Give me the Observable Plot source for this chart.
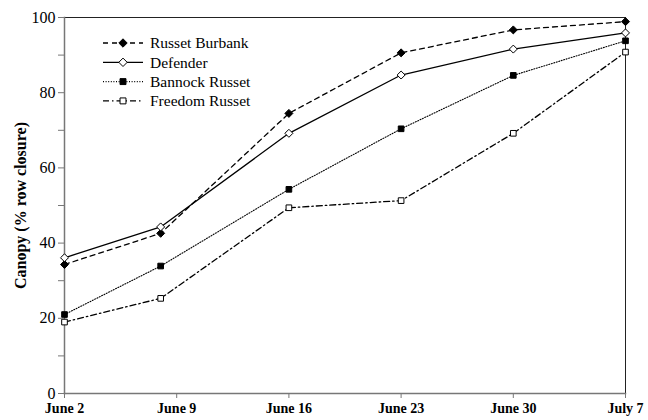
<!DOCTYPE html>
<html>
<head>
<meta charset="utf-8">
<script src="https://cdn.jsdelivr.net/npm/d3@7"></script>
<script src="https://cdn.jsdelivr.net/npm/@observablehq/plot@0.6"></script>
<style>
  html, body { margin: 0; padding: 0; background: #fff; }
  #wrap { position: relative; width: 648px; height: 420px; }
  #wrap svg, #wrap svg text { font-family: 'Liberation Serif', 'DejaVu Serif', serif !important; }
  g[aria-label="y-axis label"] text { font-weight: bold; font-size: 16px; }
  g[aria-label="x-axis tick label"] text { font-weight: bold; font-size: 14px; }
  #legend { position: absolute; left: 0; top: 0; }
</style>
</head>
<body>
<div id="wrap"></div>
<script>
// ---- data ----
const dates = ["2003-06-02", "2003-06-08", "2003-06-16", "2003-06-23", "2003-06-30", "2003-07-07"];
const cultivars = ["Russet Burbank", "Defender", "Bannock Russet", "Freedom Russet"];
const russetBurbank = [34.3, 42.6, 74.5, 90.6, 96.7, 98.9];
const defender      = [36.1, 44.3, 69.2, 84.7, 91.6, 95.9];
const bannockRusset = [21.0, 33.9, 54.3, 70.4, 84.6, 93.8];
const freedomRusset = [19.0, 25.3, 49.4, 51.3, 69.2, 90.8];
const tickDates  = ["2003-06-02", "2003-06-09", "2003-06-16", "2003-06-23", "2003-06-30", "2003-07-07"];
const tickLabels = ["June 2", "June 9", "June 16", "June 23", "June 30", "July 7"];
const yTicks = [0, 10, 20, 30, 40, 50, 60, 70, 80, 90, 100];
const yLabel = "Canopy (% row closure)";

// ---- build table ----
const seriesValues = [russetBurbank, defender, bannockRusset, freedomRusset];
const parse = d3.utcParse("%Y-%m-%d");
const rows = [];
cultivars.forEach((c, k) => {
  seriesValues[k].forEach((v, i) => rows.push({cultivar: c, date: parse(dates[i]), value: v}));
});
const ticks = tickDates.map(parse);

const styles = {
  "Russet Burbank": {dash: "5,4", width: 1.3, symbol: "diamond2", fill: "black"},
  "Defender":       {dash: null, width: 1.3, symbol: "diamond2", fill: "white"},
  "Bannock Russet": {dash: "1,1.6", width: 1.1, symbol: "square2", fill: "black"},
  "Freedom Russet": {dash: "6,3,1.5,3", width: 1.3, symbol: "square2", fill: "white"}
};

const marks = [];
marks.push(Plot.frame({anchor: "top", stroke: "#222"}));
marks.push(Plot.frame({anchor: "right", stroke: "#222"}));
marks.push(Plot.frame({anchor: "left", stroke: "#777", strokeWidth: 1.5}));
marks.push(Plot.frame({anchor: "bottom", stroke: "#777", strokeWidth: 1.5}));
cultivars.forEach(c => {
  const s = styles[c];
  const data = rows.filter(r => r.cultivar === c);
  marks.push(Plot.line(data, {x: "date", y: "value", stroke: "black", strokeWidth: s.width,
    strokeDasharray: s.dash || undefined}));
});
cultivars.forEach(c => {
  const s = styles[c];
  const data = rows.filter(r => r.cultivar === c);
  marks.push(Plot.dot(data, {x: "date", y: "value", symbol: () => s.symbol, r: 3.6,
    fill: s.fill, stroke: "black", strokeWidth: 1}));
});
marks.push(Plot.axisY({ticks: yTicks, tickFormat: d => d % 20 === 0 ? String(d) : "",
  tickSize: 6, tickPadding: 3, fontSize: 16, stroke: "#777",
  label: yLabel, labelAnchor: "center", labelOffset: 50, labelArrow: "none"}));
marks.push(Plot.axisX({ticks: ticks, tickFormat: (d, i) => tickLabels[i],
  tickSize: 5, tickPadding: 5, stroke: "#777", label: null}));

const chart = Plot.plot({
  width: 648, height: 420,
  marginLeft: 64, marginRight: 23, marginTop: 17, marginBottom: 27,
  x: {type: "utc", domain: [parse(dates[0]), parse(dates[dates.length - 1])]},
  y: {domain: [0, 100]},
  symbol: {type: "identity"},
  style: {color: "black", background: "white"},
  marks
});
document.getElementById("wrap").appendChild(chart);

// ---- legend overlay ----
const lg = d3.select("#wrap").append("svg").attr("id", "legend")
  .attr("width", 648).attr("height", 420);
cultivars.forEach((c, i) => {
  const s = styles[c];
  const y = 43 + i * 19.3;
  lg.append("line").attr("x1", 103).attr("x2", 143).attr("y1", y).attr("y2", y)
    .attr("stroke", "black").attr("stroke-width", s.width)
    .attr("stroke-dasharray", s.dash || null);
  const sym = s.symbol === "diamond2" ? d3.symbolDiamond2 : d3.symbolSquare2;
  lg.append("path").attr("d", d3.symbol(sym, 45)())
    .attr("transform", `translate(123,${y})`)
    .attr("fill", s.fill).attr("stroke", "black").attr("stroke-width", 1);
  lg.append("text").attr("x", 150).attr("y", y).attr("dy", "0.35em")
    .attr("font-size", 15.5).text(c);
});
</script>
</body>
</html>
